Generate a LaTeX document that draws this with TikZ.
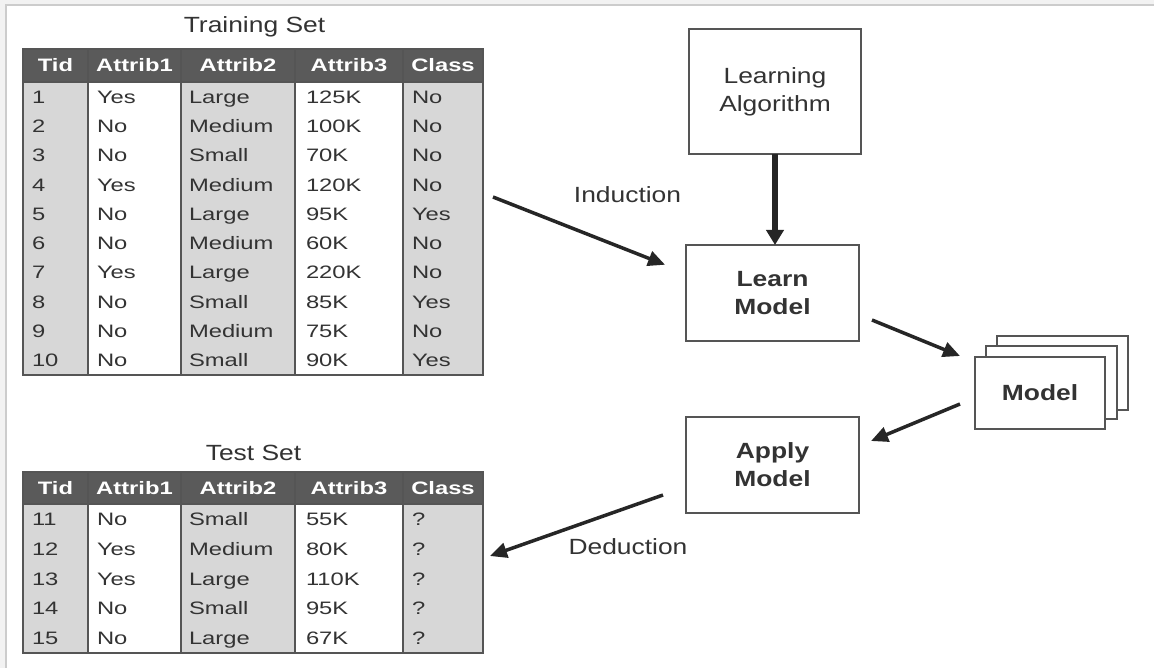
\documentclass[tikz,border=0pt]{standalone}
\usepackage{fontspec}
\setmainfont{Liberation Sans}[FakeStretch=1.2]
\newfontfamily\tabfont{Liberation Sans}[FakeStretch=1.32]
\usetikzlibrary{arrows.meta,calc}
\definecolor{ink}{HTML}{333333}
\definecolor{frame}{HTML}{555555}
\definecolor{colgray}{HTML}{D7D7D7}
\definecolor{headgray}{HTML}{5A5A5A}
\definecolor{pagegray}{HTML}{F2F2F2}
\definecolor{pageline}{HTML}{CCCCCC}

% #1 name, #2 table top, #3 header bottom, #4 table bottom, #5 row height, #6 rows
\newcommand\datatable[6]{%
  \fill[colgray] (23,#3) rectangle (88,#4);
  \fill[white]   (88,#3) rectangle (181,#4);
  \fill[colgray] (181,#3) rectangle (295,#4);
  \fill[white]   (295,#3) rectangle (403,#4);
  \fill[colgray] (403,#3) rectangle (483,#4);
  \fill[headgray] (23,#2) rectangle (483,#3);
  \foreach \colx in {88,181,295,403}
    \draw[frame, line width=1.8pt] (\colx,#2) -- (\colx,#4);
  \draw[frame, line width=1.2pt] (23,#3) -- (483,#3);
  \node[headcell] (#1-h1) at (55.5,{(#2+#3)/2+6.5}) {Tid};
  \node[headcell] (#1-h2) at (134.5,{(#2+#3)/2+6.5}) {Attrib1};
  \node[headcell] (#1-h3) at (238,{(#2+#3)/2+6.5}) {Attrib2};
  \node[headcell] (#1-h4) at (349,{(#2+#3)/2+6.5}) {Attrib3};
  \node[headcell] (#1-h5) at (443,{(#2+#3)/2+6.5}) {Class};
  \foreach \ti/\ca/\cb/\cc/\ck [count=\ri] in {#6} {
    \node[cell] (#1-\ri-1) at (32,{#3+(\ri-0.5)*#5+6.5}) {\ti};
    \node[cell] (#1-\ri-2) at (97,{#3+(\ri-0.5)*#5+6.5}) {\ca};
    \node[cell] (#1-\ri-3) at (189,{#3+(\ri-0.5)*#5+6.5}) {\cb};
    \node[cell] (#1-\ri-4) at (306,{#3+(\ri-0.5)*#5+6.5}) {\cc};
    \node[cell] (#1-\ri-5) at (412,{#3+(\ri-0.5)*#5+6.5}) {\ck};
  }
  \node[draw=frame, line width=2pt, inner sep=0pt, minimum width=460pt,
        minimum height={#4-#2}] (#1) at (253,{(#2+#4)/2}) {};
}

\begin{document}
\begin{tikzpicture}[x=1pt,y=-1pt,
  every node/.style={outer sep=0pt},
  box/.style={draw=frame, line width=1.8pt, fill=white, align=center, text=ink,
    font=\fontsize{22}{28}\selectfont, minimum width=173pt, minimum height=96pt, inner sep=0pt},
  cell/.style={anchor=base west, inner sep=0pt, text=ink, font=\tabfont\fontsize{18}{20}\selectfont},
  headcell/.style={anchor=base, inner sep=0pt, text=white, font=\tabfont\bfseries\fontsize{18}{20}\selectfont},
  title/.style={anchor=base, inner sep=0pt, text=ink, font=\fontsize{22}{26}\selectfont},
  flow/.style={draw=black!85, line width=3.5pt, -{Triangle[length=17pt,width=15pt]}},
]
\useasboundingbox (0,0) rectangle (1154,668);

% page frame
\fill[pagegray] (0,0) rectangle (1154,668);
\fill[white] (6,5) rectangle (1154,668);
\draw[pageline, line width=1.2pt] (6,668) -- (6,5) -- (1154,5);

% tables
\node[title] (traintitle) at (254.5,33) {Training Set};
\datatable{train}{49}{82}{375}{29.3}{%
  1/Yes/Large/125K/No, 2/No/Medium/100K/No, 3/No/Small/70K/No,
  4/Yes/Medium/120K/No, 5/No/Large/95K/Yes, 6/No/Medium/60K/No,
  7/Yes/Large/220K/No, 8/No/Small/85K/Yes, 9/No/Medium/75K/No,
  10/No/Small/90K/Yes}

\node[title] (testtitle) at (253.5,460) {Test Set};
\datatable{test}{472}{504}{653}{29.8}{%
  11/No/Small/55K/?, 12/Yes/Medium/80K/?, 13/Yes/Large/110K/?,
  14/No/Small/95K/?, 15/No/Large/67K/?}

% process boxes
\node[box, minimum width=172pt, minimum height=125pt] (alg) at (775,91.5) {Learning\\Algorithm};
\node[box, font=\bfseries\fontsize{22}{28}\selectfont] (learn) at (772.5,293) {Learn\\Model};
\node[box, font=\bfseries\fontsize{22}{28}\selectfont] (apply) at (772.5,465) {Apply\\Model};

% stacked model cards
\node[box, minimum width=131pt, minimum height=74pt] (model-b3) at (1062.5,373) {};
\node[box, minimum width=131pt, minimum height=73pt] (model-b2) at (1051.5,382.5) {};
\node[box, minimum width=130pt, minimum height=72pt, font=\bfseries\fontsize{22}{28}\selectfont] (model) at (1040,393) {Model};

% connectors
\draw[flow, shorten >=22.5pt] ([xshift=10pt,yshift=15pt]train.east) -- ([yshift=20pt]learn.west);
\draw[flow, line width=5.5pt, -{Triangle[length=15pt,width=17pt]}] (alg.south) -- (alg.south |- learn.north);
\draw[flow] ([xshift=13pt,yshift=-27pt]learn.east) -- ([xshift=-15pt,yshift=37pt]model.west);
\draw[flow] ([xshift=-15pt,yshift=-11pt]model.west) -- ([xshift=12pt,yshift=24pt]apply.east);
\draw[flow] ([xshift=-23pt,yshift=-30pt]apply.west) -- ([xshift=7pt,yshift=6.5pt]test.east);

% connector labels
\node[title] (induction) at (627.5,203) {Induction};
\node[title] (deduction) at (628,554) {Deduction};
\end{tikzpicture}
\end{document}
